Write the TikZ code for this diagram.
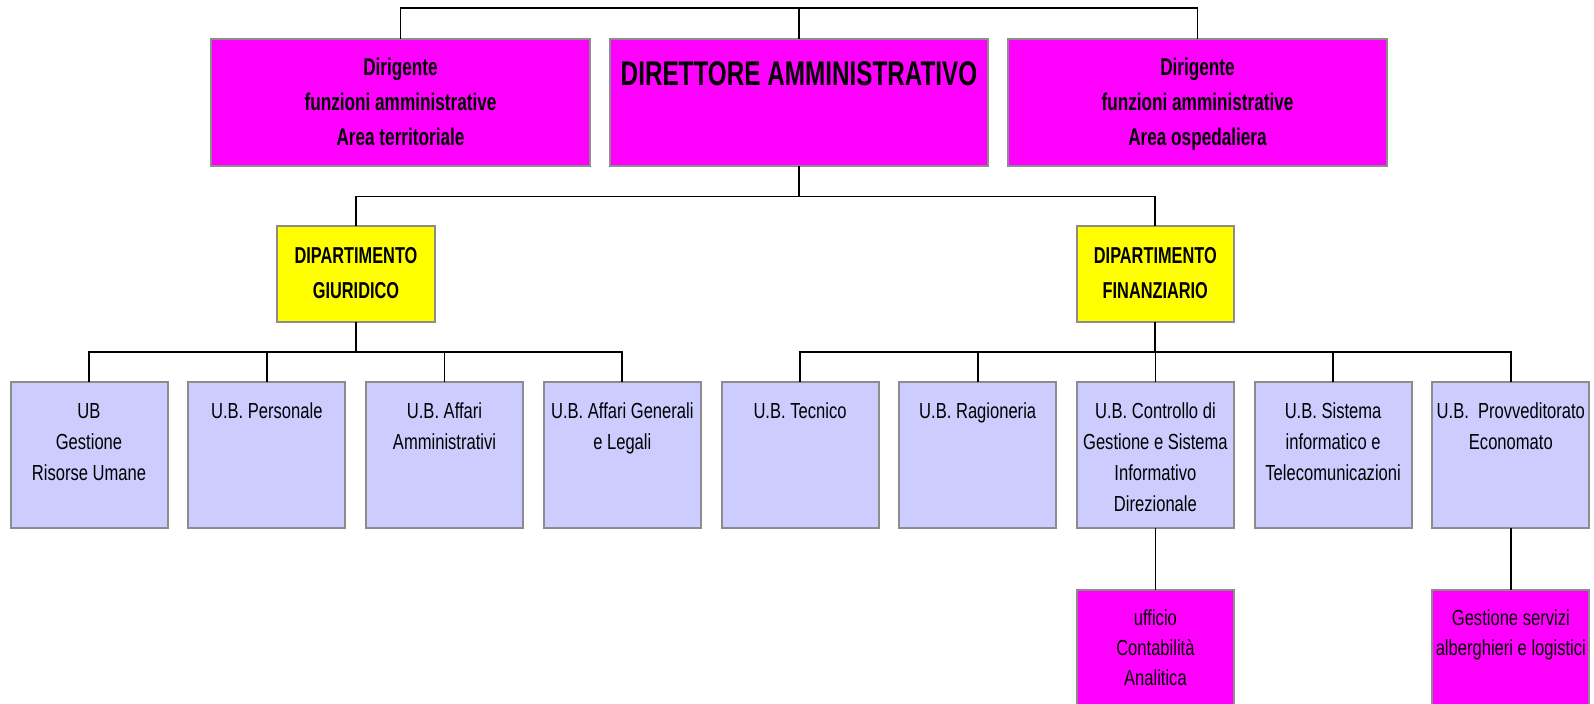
\documentclass[tikz,border=0pt]{standalone}
\usepackage{fontspec}
\setmainfont{Liberation Sans}
\newfontfamily\nreg[FakeStretch=0.76]{Liberation Sans}
\newfontfamily\nbold[FakeStretch=0.71]{Liberation Sans}
\definecolor{mag}{HTML}{FF00FF}
\definecolor{yel}{HTML}{FFFF00}
\definecolor{lav}{HTML}{CCCCFF}
\definecolor{bord}{HTML}{8C8C8C}
\newcommand{\boxtxt}[4]{\parbox[c][#2][t]{#1}{\centering\rule{0pt}{#3}#4\par}}
\tikzset{
  orgbox/.style={draw=bord, line width=1pt, inner sep=0pt, outer sep=0pt, text=black},
  topbox/.style={orgbox, fill=mag, font=\nbold\bfseries\fontsize{12.1}{17.35}\selectfont},
  titlebox/.style={orgbox, fill=mag, font=\nbold\bfseries\fontsize{17.1}{20}\selectfont},
  depbox/.style={orgbox, fill=yel, font=\nbold\bfseries\fontsize{11.5}{17.5}\selectfont},
  ubbox/.style={orgbox, fill=lav, font=\nreg\fontsize{10.9}{15.5}\selectfont},
  subbox/.style={orgbox, fill=mag, font=\nreg\fontsize{10.9}{15}\selectfont},
  conn/.style={draw=black, line width=0.9pt, line join=miter}
}
\begin{document}
\begin{tikzpicture}[x=0.5pt,y=-0.5pt]
\useasboundingbox (0,0) rectangle (1594,704);
% top row
\node[topbox] (dirL) at (400.5,102.75) {\boxtxt{189.25pt}{63.75pt}{18.35pt}{Dirigente\\funzioni amministrative\\Area territoriale}};
\node[titlebox] (dir) at (799,102.75) {\boxtxt{189.25pt}{63.75pt}{23.5pt}{DIRETTORE AMMINISTRATIVO}};
\node[topbox] (dirR) at (1197.5,102.75) {\boxtxt{189.25pt}{63.75pt}{18.35pt}{Dirigente\\funzioni amministrative\\Area ospedaliera}};
% departments
\node[depbox] (depG) at (356,274.25) {\boxtxt{78.75pt}{47.75pt}{18.75pt}{DIPARTIMENTO\\GIURIDICO}};
\node[depbox] (depF) at (1155.3,274.25) {\boxtxt{78.75pt}{47.75pt}{18.75pt}{DIPARTIMENTO\\FINANZIARIO}};
% units
\node[ubbox] (ub1) at (89,455.25) {\boxtxt{78.5pt}{73.25pt}{18.5pt}{UB\\Gestione\\Risorse Umane}};
\node[ubbox] (ub2) at (266.8,455.25) {\boxtxt{78.5pt}{73.25pt}{18.5pt}{U.B. Personale}};
\node[ubbox] (ub3) at (444.5,455.25) {\boxtxt{78.5pt}{73.25pt}{18.5pt}{U.B. Affari\\Amministrativi}};
\node[ubbox] (ub4) at (622.3,455.25) {\boxtxt{78.5pt}{73.25pt}{18.5pt}{U.B. Affari Generali\\e Legali}};
\node[ubbox] (ub5) at (800,455.25) {\boxtxt{78.5pt}{73.25pt}{18.5pt}{U.B. Tecnico}};
\node[ubbox] (ub6) at (977.7,455.25) {\boxtxt{78.5pt}{73.25pt}{18.5pt}{U.B. Ragioneria}};
\node[ubbox] (ub7) at (1155.4,455.25) {\boxtxt{78.5pt}{73.25pt}{18.5pt}{U.B. Controllo di\\Gestione e Sistema\\Informativo\\Direzionale}};
\node[ubbox] (ub8) at (1333.1,455.25) {\boxtxt{78.5pt}{73.25pt}{18.5pt}{U.B. Sistema\\informatico e\\Telecomunicazioni}};
\node[ubbox] (ub9) at (1510.8,455.25) {\boxtxt{78.5pt}{73.25pt}{18.5pt}{U.B.\ \ Provveditorato\\Economato}};
% sub offices
\node[subbox] (uff) at (1155.4,655) {\boxtxt{78.5pt}{65pt}{17.5pt}{ufficio\\Contabilità\\Analitica}};
\node[subbox] (gsa) at (1510.8,655) {\boxtxt{78.5pt}{65pt}{17.5pt}{Gestione servizi\\alberghieri e logistici}};
% bus levels
\coordinate (topbus) at (0,8);
\coordinate (midbus) at (0,196.5);
\coordinate (lowbus) at (0,351.7);
% connectors
\draw[conn] (dirL.north) |- (dirR.north |- topbus) -- (dirR.north);
\draw[conn] (dir.north) -- (dir.north |- topbus);
\draw[conn] (dir.south) -- (dir.south |- midbus);
\draw[conn] (depG.north) |- (depF.north |- midbus) -- (depF.north);
\draw[conn] (depG.south) -- (depG.south |- lowbus);
\draw[conn] (ub1.north) |- (ub4.north |- lowbus) -- (ub4.north);
\draw[conn] (ub2.north) -- (ub2.north |- lowbus);
\draw[conn] (ub3.north) -- (ub3.north |- lowbus);
\draw[conn] (depF.south) -- (depF.south |- lowbus);
\draw[conn] (ub5.north) |- (ub9.north |- lowbus) -- (ub9.north);
\draw[conn] (ub6.north) -- (ub6.north |- lowbus);
\draw[conn] (ub7.north) -- (ub7.north |- lowbus);
\draw[conn] (ub8.north) -- (ub8.north |- lowbus);
\draw[conn] (ub7.south) -- (uff.north);
\draw[conn] (ub9.south) -- (gsa.north);
\end{tikzpicture}
\end{document}
